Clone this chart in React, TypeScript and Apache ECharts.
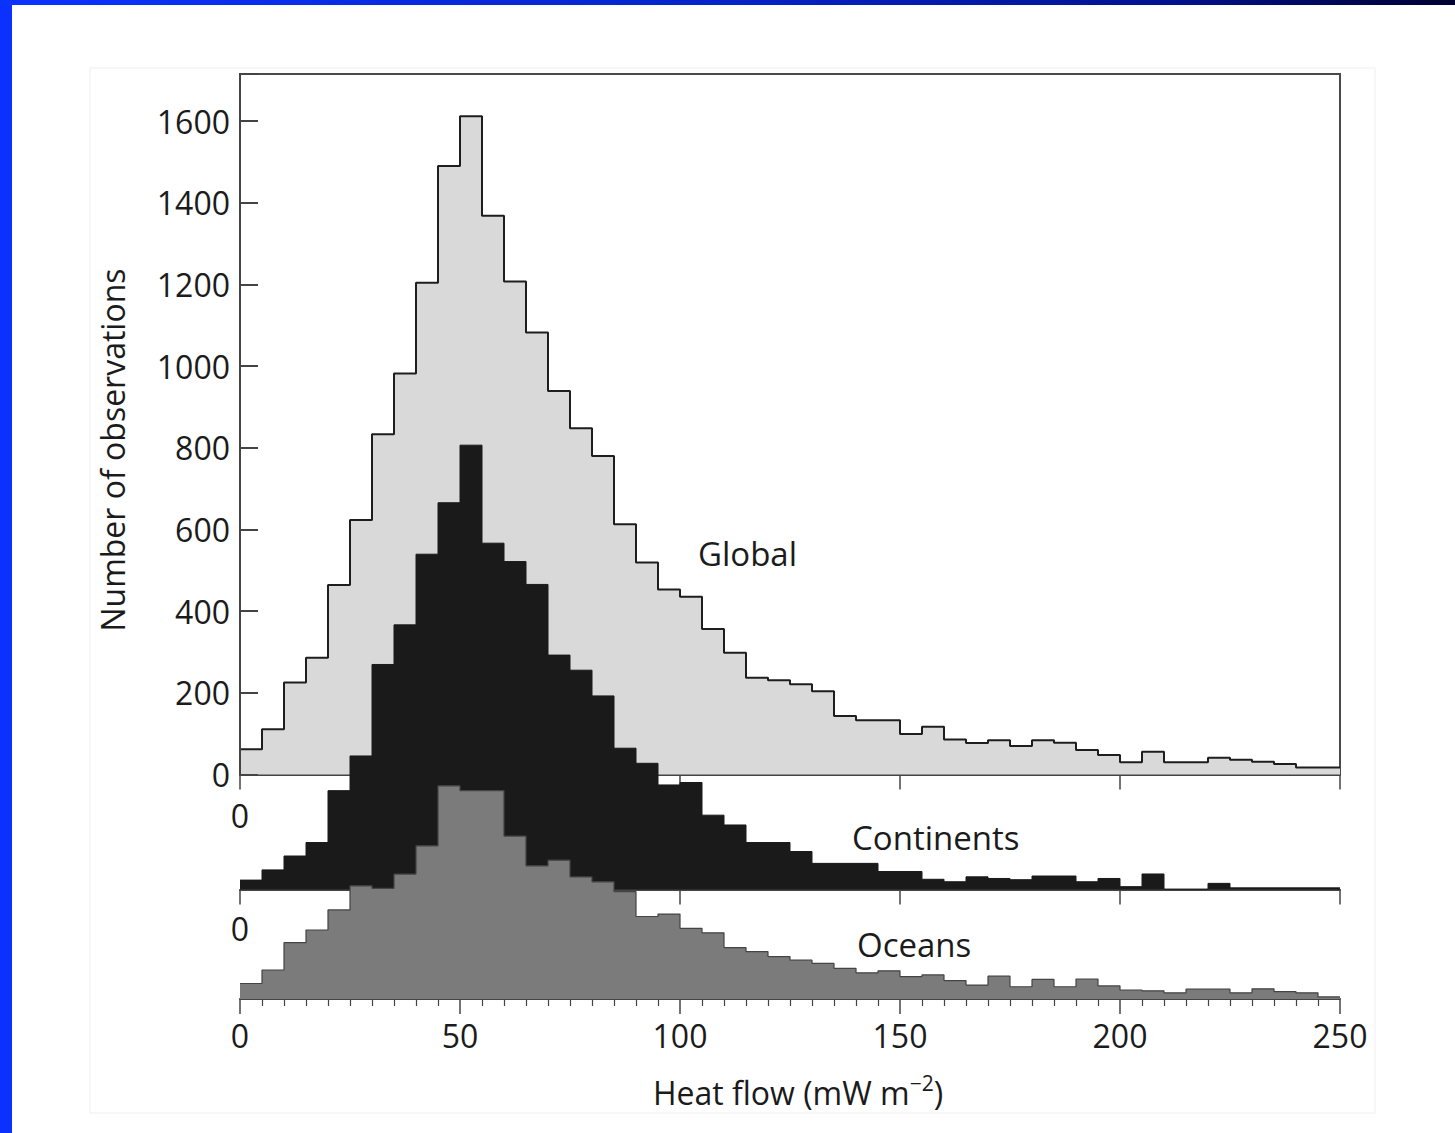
import React, { useEffect, useRef } from "react";
import * as echarts from "echarts";

// Heat-flow bins (mW m^-2), 5-unit wide, start of each bin
const BIN_STARTS = [
  0, 5, 10, 15, 20, 25, 30, 35, 40, 45,
  50, 55, 60, 65, 70, 75, 80, 85, 90, 95,
  100, 105, 110, 115, 120, 125, 130, 135, 140, 145,
  150, 155, 160, 165, 170, 175, 180, 185, 190, 195,
  200, 205, 210, 215, 220, 225, 230, 235, 240, 245,
];
const BIN_END = 250;

// Number of observations per bin
const GLOBAL = [
  62, 111, 225, 286, 464, 623, 833, 982, 1204, 1490,
  1612, 1368, 1207, 1082, 939, 848, 780, 613, 519, 453,
  435, 356, 298, 237, 231, 221, 204, 143, 133, 133,
  99, 117, 86, 77, 84, 70, 84, 78, 60, 48,
  30, 56, 30, 30, 41, 36, 31, 26, 17, 17,
];
const CONTINENTS = [
  23, 48, 82, 115, 242, 327, 551, 648, 821, 947,
  1088, 848, 803, 747, 574, 537, 474, 346, 309, 256,
  262, 182, 158, 115, 115, 93, 64, 64, 64, 44,
  44, 25, 19, 31, 27, 24, 33, 33, 19, 27,
  7, 38, 1, 1, 15, 4, 4, 4, 4, 4,
];
const OCEANS = [
  38, 71, 138, 169, 218, 277, 271, 306, 375, 522,
  510, 510, 399, 326, 340, 299, 287, 263, 202, 208,
  173, 162, 126, 116, 104, 95, 87, 75, 64, 69,
  55, 59, 45, 34, 56, 30, 48, 30, 49, 32,
  22, 20, 15, 24, 24, 15, 25, 18, 15, 5,
];

const Y_TICK_STEP = 200;
const Y_TICK_TOP = 1600;
const X_TICK_STEP = 50;

const FONT = "'Open Sans', 'Noto Sans', sans-serif";
const TEXT = "#1b1b1b";
const AXIS = "#444444";

function stepData(vals: number[]): number[][] {
  const d = BIN_STARTS.map((x, i) => [x, vals[i]]);
  d.push([BIN_END, vals[vals.length - 1]]);
  return d;
}

export default function App() {
  const ref = useRef<HTMLDivElement>(null);

  useEffect(() => {
    if (!ref.current) return;
    const chart = echarts.init(ref.current, null, { renderer: "svg" });

    const plotLeft = 240;
    const plotWidth = 1100;
    const plotTop = 74;
    const pxPerCount = 0.4084;
    const baseGlobal = 774.5;
    const baseCont = 889.5;
    const baseOcean = 999;

    const hGlobal = baseGlobal - plotTop;
    const hCont = baseCont - plotTop;
    const hOcean = baseOcean - plotTop;

    const xAxisBase = (gridIndex: number, labels: boolean) => ({
      gridIndex,
      type: "value",
      min: 0,
      max: BIN_END,
      interval: X_TICK_STEP,
      axisLine: { show: true, lineStyle: { color: AXIS, width: 2 } },
      axisTick: { show: true, inside: false, length: 15, lineStyle: { color: AXIS, width: 1.5 } },
      minorTick: labels
        ? { show: true, splitNumber: 10, length: 7, lineStyle: { color: AXIS, width: 1.2 } }
        : { show: false },
      axisLabel: labels
        ? { show: true, fontSize: 32, color: TEXT, fontFamily: FONT, margin: 20 }
        : { show: false },
      splitLine: { show: false },
    });

    const option: any = {
      animation: false,
      backgroundColor: "#ffffff",
      grid: [
        {
          left: plotLeft,
          width: plotWidth,
          top: plotTop,
          height: hGlobal,
          show: true,
          borderColor: "#4a4a4a",
          borderWidth: 2,
          backgroundColor: "rgba(0,0,0,0)",
        },
        { left: plotLeft, width: plotWidth, top: plotTop, height: hCont },
        { left: plotLeft, width: plotWidth, top: plotTop, height: hOcean },
      ],
      xAxis: [xAxisBase(0, false), xAxisBase(1, false), xAxisBase(2, true)],
      yAxis: [
        {
          gridIndex: 0,
          type: "value",
          min: 0,
          max: hGlobal / pxPerCount,
          interval: Y_TICK_STEP,
          z: 10,
          axisLine: { show: true, lineStyle: { color: AXIS, width: 2 } },
          axisTick: { show: true, inside: true, length: 18, lineStyle: { color: AXIS, width: 2 } },
          axisLabel: {
            show: true,
            fontSize: 32,
            color: TEXT,
            fontFamily: FONT,
            margin: 10,
            formatter: (v: number) =>
              v % Y_TICK_STEP === 0 && v <= Y_TICK_TOP ? String(v) : "",
          },
          splitLine: { show: false },
        },
        { gridIndex: 1, type: "value", min: 0, max: hCont / pxPerCount, show: false },
        { gridIndex: 2, type: "value", min: 0, max: hOcean / pxPerCount, show: false },
      ],
      series: [
        {
          name: "Global",
          type: "line",
          xAxisIndex: 0,
          yAxisIndex: 0,
          step: "end",
          data: stepData(GLOBAL),
          symbol: "none",
          showSymbol: false,
          lineStyle: { color: "#1e1e1e", width: 2 },
          areaStyle: { color: "#d9d9d9", opacity: 1 },
          z: 2,
        },
        {
          name: "Continents",
          type: "line",
          xAxisIndex: 1,
          yAxisIndex: 1,
          step: "end",
          data: stepData(CONTINENTS),
          symbol: "none",
          showSymbol: false,
          lineStyle: { color: "#1a1a1a", width: 1 },
          areaStyle: { color: "#1a1a1a", opacity: 1 },
          z: 3,
        },
        {
          name: "Oceans",
          type: "line",
          xAxisIndex: 2,
          yAxisIndex: 2,
          step: "end",
          data: stepData(OCEANS),
          symbol: "none",
          showSymbol: false,
          lineStyle: { color: "#444444", width: 1.2 },
          areaStyle: { color: "#7b7b7b", opacity: 1 },
          z: 4,
        },
      ],
      graphic: [
        // slide frame
        {
          type: "rect",
          shape: { x: 0, y: 0, width: 12, height: 1133 },
          style: { fill: "#0b31ff" },
          silent: true,
        },
        {
          type: "rect",
          shape: { x: 0, y: 0, width: 1455, height: 5 },
          style: {
            fill: new echarts.graphic.LinearGradient(0, 0, 1, 0, [
              { offset: 0, color: "#0b33ff" },
              { offset: 0.5, color: "#0524c8" },
              { offset: 0.8, color: "#001290" },
              { offset: 1, color: "#000030" },
            ]),
          },
          silent: true,
        },
        {
          type: "rect",
          shape: { x: 90, y: 68, width: 1285, height: 1045 },
          style: { fill: "none", stroke: "#f5f5f5", lineWidth: 1.5 },
          silent: true,
        },
        // axis titles
        {
          type: "text",
          x: 112,
          y: 450,
          rotation: Math.PI / 2,
          z: 100,
          style: {
            text: "Number of observations",
            fontSize: 32,
            fontFamily: FONT,
            fill: TEXT,
            align: "center",
            verticalAlign: "middle",
          },
        },
        {
          type: "text",
          x: 798,
          y: 1092,
          z: 100,
          style: {
            text: "{a|Heat flow (mW m}{s|−2}{a|)}",
            align: "center",
            verticalAlign: "middle",
            fill: TEXT,
            fontFamily: FONT,
            rich: {
              a: { fontSize: 32, fontFamily: FONT, fill: TEXT, lineHeight: 40, verticalAlign: "middle" },
              s: { fontSize: 21, fontFamily: FONT, fill: TEXT, lineHeight: 22, verticalAlign: "top" },
            },
          },
        },
        // series labels
        {
          type: "text",
          x: 698,
          y: 553,
          z: 100,
          style: { text: "Global", fontSize: 33, fontFamily: FONT, fill: TEXT, align: "left", verticalAlign: "middle" },
        },
        {
          type: "text",
          x: 852,
          y: 837,
          z: 100,
          style: { text: "Continents", fontSize: 33, fontFamily: FONT, fill: TEXT, align: "left", verticalAlign: "middle" },
        },
        {
          type: "text",
          x: 857,
          y: 944,
          z: 100,
          style: { text: "Oceans", fontSize: 33, fontFamily: FONT, fill: TEXT, align: "left", verticalAlign: "middle" },
        },
        // zero labels of the lower panels
        {
          type: "text",
          x: 240,
          y: 815,
          z: 100,
          style: { text: "0", fontSize: 32, fontFamily: FONT, fill: TEXT, align: "center", verticalAlign: "middle" },
        },
        {
          type: "text",
          x: 240,
          y: 928,
          z: 100,
          style: { text: "0", fontSize: 32, fontFamily: FONT, fill: TEXT, align: "center", verticalAlign: "middle" },
        },
      ],
    };

    chart.setOption(option);
    return () => chart.dispose();
  }, []);

  return (
    <div
      ref={ref}
      style={{ position: "absolute", left: 0, top: 0, width: 1455, height: 1133, background: "#ffffff" }}
    />
  );
}
